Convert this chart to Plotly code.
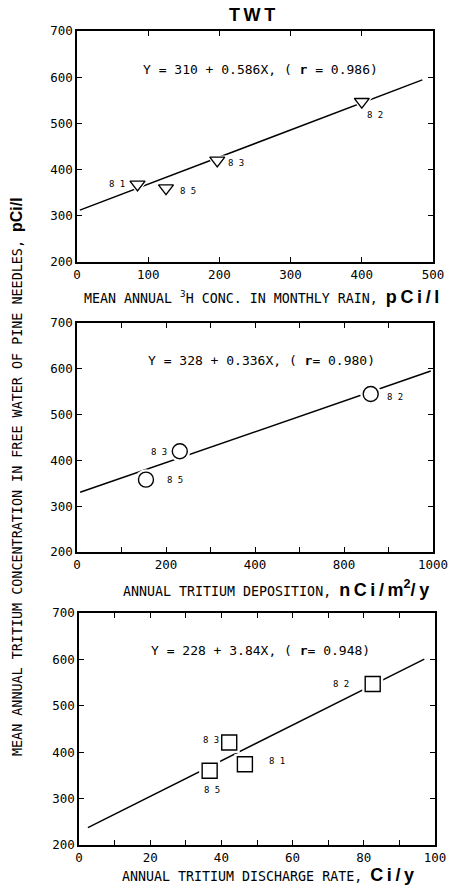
import plotly.graph_objects as go

W, H = 457, 888

# ---- data -------------------------------------------------------------
# Panel 1: tritium in monthly rain (pCi/l)
rain_years = ["81", "85", "83", "82"]
rain_x = [85, 125, 197, 400]
rain_y = [368, 360, 420, 547]
rain_fit = [310, 0.586]
rain_r = "0.986"
rain_fit_x = [4, 485]
rain_tickvals = [0, 100, 200, 300, 400, 500]

# Panel 2: annual tritium deposition (nCi/m2/y)
dep_years = ["85", "83", "82"]
dep_x = [155, 231, 660]
dep_y = [358, 420, 545]
dep_fit = [328, 0.336]
dep_r = "0.980"
dep_fit_x = [7, 795]
dep_tickvals = [0, 200, 400, 600, 800]
dep_ticktext = ["0", "200", "400", "800", "1000"]

# Panel 3: annual tritium discharge rate (Ci/y)
dis_years = ["85", "83", "81", "82"]
dis_x = [36.7, 42.2, 46.6, 82.5]
dis_y = [360, 421, 374, 547]
dis_fit = [228, 3.84]
dis_r = "0.948"
dis_fit_x = [2.5, 97]
dis_tickvals = [0, 20, 40, 60, 80, 100]

y_tickvals = [200, 300, 400, 500, 600, 700]

# ---- styling ----------------------------------------------------------
MONO = "DejaVu Sans Mono"
SANS = "Liberation Sans, Arial, sans-serif"
INK = "black"


def px_x(p):
    return p / W


def px_y(p):
    return 1 - p / H


fig = go.Figure()


def panel(idx, xs, ys, years, fit, fit_x, symbol, msize, label_shifts):
    xa = "x" if idx == 1 else f"x{idx}"
    ya = "y" if idx == 1 else f"y{idx}"
    a, b = fit
    fy = [a + b * v for v in fit_x]
    fig.add_trace(go.Scatter(x=fit_x, y=fy, mode="lines", xaxis=xa, yaxis=ya,
                             line=dict(color=INK, width=1.5), hoverinfo="skip"))
    # white halo so the fit line breaks around each marker
    fig.add_trace(go.Scatter(x=xs, y=ys, mode="markers", xaxis=xa, yaxis=ya,
                             marker=dict(symbol=symbol, size=msize + 6, color="white",
                                         line=dict(color="white", width=0)),
                             hoverinfo="skip"))
    fig.add_trace(go.Scatter(x=xs, y=ys, mode="markers", xaxis=xa, yaxis=ya,
                             marker=dict(symbol=symbol, size=msize, color="white",
                                         line=dict(color=INK, width=1.4))))
    for xv, yv, yr, (dx, dy) in zip(xs, ys, years, label_shifts):
        fig.add_annotation(x=xv, y=yv, xref=xa, yref=ya, text=" ".join(yr),
                           showarrow=False, xshift=dx, yshift=dy,
                           xanchor="center", yanchor="middle",
                           font=dict(family=MONO, size=9, color=INK))


panel(1, rain_x, rain_y, rain_years, rain_fit, rain_fit_x, "triangle-down", 13,
      [(-21, 0), (22, -3), (19, -3), (13, -13)])
panel(2, dep_x, dep_y, dep_years, dep_fit, dep_fit_x, "circle", 15,
      [(29, 0), (-21, -1), (24, -3)])
panel(3, dis_x, dis_y, dis_years, dis_fit, dis_fit_x, "square", 15,
      [(2, -19), (-18, 2), (32, 3), (-32, 0)])

# ---- axes -------------------------------------------------------------
frame = dict(showline=True, linecolor=INK, linewidth=1.5, mirror="ticks",
             ticks="inside", ticklen=5, tickwidth=1.3, tickcolor=INK,
             showgrid=False, zeroline=False, automargin=False,
             tickfont=dict(family=MONO, size=12.5, color=INK))
minor_ticks = dict(ticks="inside", ticklen=5, tickwidth=1.3, tickcolor=INK, showgrid=False)

boxes = [  # left, right, top, bottom in px
    (77, 433, 31, 262),
    (77, 433, 323, 552),
    (79, 435, 613, 845),
]

xaxes = [
    dict(range=[0, 500], tickvals=rain_tickvals),
    dict(range=[0, 800], tickvals=dep_tickvals, ticktext=dep_ticktext,
         minor=dict(minor_ticks, dtick=100, tick0=0)),
    dict(range=[0, 100], tickvals=dis_tickvals,
         minor=dict(minor_ticks, dtick=10, tick0=0)),
]

layout = {}
for i, ((l, r, t, b), xa) in enumerate(zip(boxes, xaxes), start=1):
    sx = "xaxis" if i == 1 else f"xaxis{i}"
    sy = "yaxis" if i == 1 else f"yaxis{i}"
    ax_name = "x" if i == 1 else f"x{i}"
    ay_name = "y" if i == 1 else f"y{i}"
    layout[sx] = dict(frame, domain=[px_x(l), px_x(r)], anchor=ay_name, **xa)
    layout[sy] = dict(frame, domain=[px_y(b), px_y(t)], anchor=ax_name,
                      range=[200, 700], tickvals=y_tickvals)

fig.update_layout(**layout)

# ---- text -------------------------------------------------------------
def unit(s, size=18):
    style = f"font-family:Liberation Sans, Arial, sans-serif;font-weight:bold;font-size:{size}px"
    return f'<span style="{style}">{s}</span>'


def eq_text(fit, r, gap):
    return f"Y = {fit[0]} + {fit[1]}X, ( <b>r</b>{gap}= {r})"


texts = [
    # (text, x px, y px, size, xanchor)
    (eq_text(rain_fit, rain_r, " "), 260, 70, 13, "center"),
    (eq_text(dep_fit, dep_r, ""), 261, 360, 13, "center"),
    (eq_text(dis_fit, dis_r, ""), 260, 650, 13, "center"),
    ("MEAN ANNUAL <sup>3</sup>H CONC. IN MONTHLY RAIN, " + unit("p\u2009C\u2009i\u2009/\u2009l"),
     82, 297, 13.3, "left"),
    ("ANNUAL TRITIUM DEPOSITION, " + unit("n\u2009C\u2009i\u2009/\u2009m<sup>2</sup>/\u2009y"),
     121, 588, 13.3, "left"),
    ("ANNUAL TRITIUM DISCHARGE RATE, " + unit("C\u2009i\u2009/\u2009y"),
     120, 875, 13.3, "left"),
]

for txt, x, y, size, xanc in texts:
    fig.add_annotation(text=txt, x=px_x(x), y=px_y(y), xref="paper", yref="paper",
                       xanchor=xanc, yanchor="middle", showarrow=False,
                       font=dict(family=MONO, size=size, color=INK))

# panel heading
fig.add_annotation(text="<b>T\u2009W\u2009T</b>", x=px_x(252), y=px_y(15),
                   xref="paper", yref="paper", showarrow=False,
                   xanchor="center", yanchor="middle",
                   font=dict(family=SANS, size=18, color=INK))

# shared vertical axis title
fig.add_annotation(
    text="MEAN ANNUAL TRITIUM CONCENTRATION IN FREE WATER OF PINE NEEDLES, "
         + unit("pCi/l", 16),
    x=px_x(16), y=px_y(477), xref="paper", yref="paper", textangle=-90,
    xanchor="center", yanchor="middle",
    showarrow=False, font=dict(family=MONO, size=13.4, color=INK))

fig.update_layout(width=W, height=H, margin=dict(l=0, r=0, t=0, b=0, autoexpand=False),
                  paper_bgcolor="white", plot_bgcolor="white", showlegend=False)

fig.write_html("out.html")
